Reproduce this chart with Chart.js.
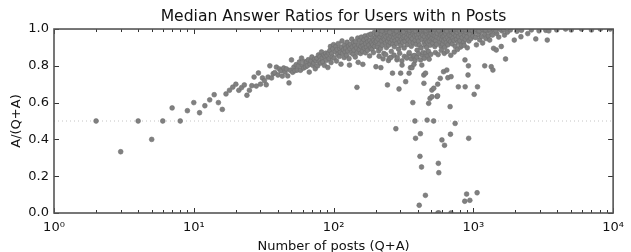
<!DOCTYPE html>
<html>
<head>
<meta charset="utf-8">
<script src="https://cdn.jsdelivr.net/npm/chart.js@4.4.0/dist/chart.umd.min.js"></script>
<style>
html, body { margin: 0; padding: 0; background: #fff; }
</style>
</head>
<body>
<canvas id="chart" width="631" height="252"></canvas>
<script>
// Median answer ratio A/(Q+A) per number of posts n

// n = 2 .. 100
const postsFew = [
  2, 3, 4, 5, 6, 7, 8, 9, 10, 11,
  12, 13, 14, 15, 16, 17, 18, 19, 20, 21,
  22, 23, 24, 25, 26, 27, 28, 29, 30, 31,
  32, 33, 34, 35, 36, 37, 38, 39, 40, 41,
  42, 43, 44, 45, 46, 47, 48, 49, 50, 51,
  52, 53, 54, 55, 56, 57, 58, 59, 60, 61,
  62, 63, 64, 65, 66, 67, 68, 69, 70, 71,
  72, 73, 74, 75, 76, 77, 78, 79, 80, 81,
  82, 83, 84, 85, 86, 87, 88, 89, 90, 91,
  92, 93, 94, 95, 96, 97, 98, 99, 100
];
const ratioFew = [
  .5, .333, .5, .4, .5, .571, .5, .556, .6, .545,
  .583, .615, .643, .6, .563, .647, .667, .684, .7, .667,
  .682, .696, .64, .667, .692, .739, .69, .761, .7, .734,
  .719, .697, .739, .8, .734, .757, .763, .793, .75, .783,
  .772, .744, .788, .766, .783, .745, .707, .776, .832, .765,
  .793, .774, .806, .777, .8, .821, .776, .842, .8, .788,
  .823, .794, .821, .8, .833, .766, .809, .826, .848, .803,
  .815, .836, .784, .827, .842, .8, .859, .823, .85, .815,
  .875, .843, .821, .859, .802, .851, .869, .83, .856, .791,
  .87, .839, .883, .905, .818, .866, .847, .893, .915
];

// n = 101 .. 200
const postsHundreds = [
  101, 103, 104, 105, 106, 107, 108, 110, 111, 112,
  113, 114, 115, 116, 118, 119, 120, 121, 122, 124,
  125, 126, 128, 129, 130, 131, 132, 134, 135, 136,
  138, 139, 140, 142, 143, 144, 146, 147, 148, 149,
  150, 151, 153, 154, 156, 157, 158, 160, 161, 162,
  163, 165, 166, 168, 169, 170, 172, 173, 175, 176,
  178, 179, 181, 182, 184, 185, 187, 188, 190, 191,
  193, 194, 196, 197, 199, 200
];
const ratioHundreds = [
  .842, .877, .905, .826, .889, .862, .921, .851, .893, .873,
  .809, .902, .935, .868, .887, .845, .912, .876, .896, .858,
  .928, .881, .907, .839, .804, .893, .917, .871, .945, .902,
  .863, .925, .886, .911, .848, .932, .897, .683, .872, .951,
  .819, .913, .888, .938, .867, .905, .956, .926, .879, .808,
  .91, .942, .896, .962, .871, .921, .901, .948, .884, .931,
  .967, .912, .854, .938, .897, .972, .925, .89, .951, .914,
  .872, .939, .981, .905, .928, .957
];

// n = 201 .. 499
const postsMid = [
  201, 203, 205, 206, 208, 210, 211, 212, 213, 215,
  217, 218, 219, 221, 223, 225, 226, 227, 229, 231,
  233, 235, 236, 237, 239, 241, 243, 244, 246, 247,
  248, 250, 251, 253, 255, 257, 258, 259, 261, 263,
  264, 266, 268, 270, 271, 272, 274, 276, 278, 279,
  281, 283, 284, 285, 286, 288, 290, 292, 294, 296,
  297, 298, 300, 302, 303, 305, 307, 308, 309, 311,
  313, 315, 318, 320, 321, 322, 325, 328, 330, 333,
  334, 336, 339, 342, 345, 346, 347, 348, 351, 354,
  355, 357, 359, 360, 363, 364, 366, 369, 370, 371,
  372, 375, 376, 378, 381, 382, 383, 384, 386, 387,
  390, 393, 395, 396, 399, 402, 405, 406, 408, 410,
  411, 414, 415, 418, 419, 420, 423, 426, 427, 428,
  431, 432, 434, 437, 440, 442, 443, 445, 446, 448,
  451, 454, 455, 457, 458, 460, 463, 466, 467, 469,
  471, 472, 475, 478, 479, 481, 483, 484, 487, 490,
  492, 495, 496, 498,
  204, 222, 238, 252, 267, 282, 299, 316, 331, 349,
  367, 385, 403, 421, 439, 459, 476, 493
];
const ratioMid = [
  .795, .934, .968, .902, .946, .881, .985, .852, .921, .958,
  .893, .79, .972, .936, .912, .991, .838, .951, .867, .943,
  .977, .925, .861, .958, .899, .986, .696, .934, .965, .829,
  .912, .948, .842, .994, .927, .961, .846, .878, .975, .94,
  .76, .918, .987, .953, .858, .904, .971, .936, .997, .458,
  .958, .921, .833, .979, .844, .946, .965, .89, .674, .983,
  .868, .931, .96, .76, .912, .988, .944, .827, .804, .971,
  .928, .955, .993, .897, .851, .962, .934, .714, .978, .951,
  .842, .915, .997, .94, .968, .864, .76, .872, .983, .931,
  .79, .959, .838, .906, .991, .79, .947, .6, .973, .853,
  .925, .985, .808, .856, .962, .5, .829, .938, .406, .993,
  .917, .968, .847, .885, .951, .999, .934, .866, .973, .042,
  .912, .988, .308, .431, .832, .955, .897, .25, .981, .804,
  .943, .858, .967, .872, .99, .75, .705, .927, .841, .958,
  .913, .096, .76, .984, .87, .941, .899, .972, .505, .929,
  .853, .995, .955, .878, .596, .98, .836, .936, .962, .623,
  .912, .988, .862, .947,
  .975, .99, 1, .982, 1, .99, 1, .985, 1, .994,
  1, .99, 1, .996, 1, .992, 1, .997
];

// n = 500 .. 999
const postsMany = [
  500, 505, 506, 508, 511, 514, 517, 520, 521, 523,
  526, 530, 533, 535, 537, 541, 545, 549, 550, 553,
  555, 556, 558, 560, 562, 566, 568, 570, 574, 578,
  580, 583, 587, 590, 591, 595, 596, 599, 603, 607,
  611, 612, 615, 619, 620, 622, 624, 628, 632, 637,
  641, 646, 647, 650, 652, 657, 658, 663, 668, 674,
  680, 682, 686, 687, 690, 692, 693, 694, 700, 707,
  714, 721, 728, 730, 735, 741, 742, 750, 758, 766,
  770, 775, 781, 784, 793, 802, 810, 812, 822, 832,
  842, 853, 860, 864, 868, 871, 874, 876, 888, 895,
  900, 905, 913, 916, 922, 926, 930, 944, 946, 962,
  978, 995,
  528, 565, 605, 644, 684, 725, 760, 797, 838, 880,
  935, 985
];
const ratioMany = [
  .975, .668, .632, .951, .99, .923, .968, .5, .678, .944,
  .981, .905, .962, .872, .936, .993, .917, .956, .633, .977,
  .637, .7, 0, .861, .27, .219, 0, .948, .986, .929,
  .732, .967, .907, .884, .994, .943, .397, .972, .918, .958,
  .989, .768, .935, .963, .868, .368, .901, .981, .946, .972,
  .925, .777, .993, .879, .955, .735, .914, .978, .94, .966,
  .997, .578, .428, .931, .857, 0, .741, .962, .985, .919,
  .951, .976, .938, .875, .991, .487, .905, .963, .944, .982,
  .889, .927, .686, .958, .995, .936, .902, .971, .912, .953,
  .988, .929, .911, .966, .064, .832, .686, .944, .981, .103,
  .957, .898, .993, .75, .8, .406, .935, .069, .972, .948,
  .991, .961,
  1, .995, 1, .99, 1, .997, 1, .99, 1, .996,
  1, .993
];

// n >= 1000
const postsThousands = [
  1014, 1021, 1035, 1052, 1064, 1071, 1078, 1093, 1110, 1128,
  1147, 1165, 1185, 1206, 1208, 1230, 1255, 1280, 1309, 1330,
  1343, 1370, 1380, 1395, 1410, 1459, 1470, 1520, 1584, 1600,
  1670, 1700, 1750, 1840, 1963, 2050, 2190, 2210, 2450, 2600,
  2797, 2950, 3300, 3380, 3470, 3950, 4570, 5020, 5940, 7000,
  8100, 9530,
  1040, 1100, 1160, 1220, 1300, 1450, 1550, 1650
];
const ratioThousands = [
  .645, .982, .954, .914, .11, .686, .993, .968, .941, .987,
  .959, .924, .996, .8, .972, .948, .99, .962, .94, .985,
  .795, .967, .777, .895, .993, .886, .975, .956, .905, .99,
  .967, .837, .983, .995, .94, .988, .958, .993, .975, .995,
  .946, .99, .993, .94, .99, .995, 1, .995, 1, .995,
  1, 1,
  1, .99, 1, .995, 1, .99, 1, .997
];

// dotted reference line at 0.5
const halfX = [1, 10000];
const halfY = [0.5, 0.5];

const xTicks = [1, 10, 100, 1000, 10000];
const xTickLabels = ['10\u2070', '10\u00B9', '10\u00B2', '10\u00B3', '10\u2074'];
const yTicks = [0, 0.2, 0.4, 0.6, 0.8, 1.0];

const FONT = 'DejaVu Sans';

const points = [];
[[postsFew, ratioFew], [postsHundreds, ratioHundreds], [postsMid, ratioMid],
 [postsMany, ratioMany], [postsThousands, ratioThousands]].forEach(([xs, ys]) => {
  xs.forEach((n, i) => points.push({ x: n, y: ys[i] }));
});

// frame + inward ticks like matplotlib
const frame = {
  id: 'frame',
  afterDatasetsDraw(chart) {
    const { ctx, chartArea: a, scales: { x, y } } = chart;
    ctx.save();
    ctx.strokeStyle = '#333';
    ctx.lineWidth = 1;
    ctx.beginPath();
    for (let k = 0; k <= 4; k++) {
      for (let m = 1; m <= 9; m++) {
        if (k === 4 && m > 1) break;
        const px = Math.round(x.getPixelForValue(m * Math.pow(10, k))) + 0.5;
        const len = m === 1 ? 5 : 3;
        ctx.moveTo(px, a.bottom); ctx.lineTo(px, a.bottom - len);
        ctx.moveTo(px, a.top); ctx.lineTo(px, a.top + len);
      }
    }
    yTicks.forEach(v => {
      const py = Math.round(y.getPixelForValue(v)) + 0.5;
      ctx.moveTo(a.left, py); ctx.lineTo(a.left + 5, py);
      ctx.moveTo(a.right, py); ctx.lineTo(a.right - 5, py);
    });
    ctx.stroke();
    ctx.strokeStyle = '#555';
    ctx.lineWidth = 1.6;
    ctx.strokeRect(a.left, a.top, a.right - a.left, a.bottom - a.top);
    ctx.restore();
  }
};

const ctx = document.getElementById('chart').getContext('2d');
new Chart(ctx, {
  type: 'scatter',
  data: {
    datasets: [{
      data: points,
      backgroundColor: '#808080',
      borderColor: '#6e6e6e',
      borderWidth: 0.6,
      pointRadius: 2.4,
      clip: 0,
      order: 1
    }, {
      type: 'line',
      data: halfX.map((v, i) => ({ x: v, y: halfY[i] })),
      borderColor: '#c4c4c4',
      borderWidth: 1,
      borderDash: [1, 3],
      pointRadius: 0,
      order: 2
    }]
  },
  options: {
    responsive: false,
    animation: false,
    layout: { padding: { left: 0, right: 11, top: 0, bottom: 0 } },
    plugins: {
      legend: { display: false },
      tooltip: { enabled: false },
      title: {
        display: true,
        fullSize: false,
        text: 'Median Answer Ratios for Users with n Posts',
        color: '#111',
        font: { family: FONT, size: 15.6, weight: 'normal', lineHeight: 1.2 },
        padding: { top: 8, bottom: 2.3 }
      }
    },
    scales: {
      x: {
        type: 'logarithmic',
        min: 1,
        max: 10000,
        afterBuildTicks: s => { s.ticks = xTicks.map(v => ({ value: v })); },
        afterFit: s => { s.height = 39; },
        grid: { display: false, drawTicks: false },
        border: { display: false },
        ticks: {
          autoSkip: false, maxRotation: 0, padding: 7, color: '#111',
          font: { family: FONT, size: 13 },
          callback: v => xTickLabels[xTicks.indexOf(v)]
        },
        title: {
          display: true, text: 'Number of posts (Q+A)', color: '#111',
          font: { family: FONT, size: 13 }, padding: { top: 0, bottom: -2 }
        }
      },
      y: {
        min: 0,
        max: 1,
        afterBuildTicks: s => { s.ticks = yTicks.map(v => ({ value: v })); },
        afterFit: s => { s.width = 54; },
        grid: { display: false, drawTicks: false },
        border: { display: false },
        ticks: {
          padding: 5, color: '#111',
          font: { family: FONT, size: 13 },
          callback: v => v.toFixed(1)
        },
        title: {
          display: true, text: 'A/(Q+A)', color: '#111',
          font: { family: FONT, size: 13 }, padding: { top: 9, bottom: 0 }
        }
      }
    }
  },
  plugins: [frame]
});
</script>
</body>
</html>
